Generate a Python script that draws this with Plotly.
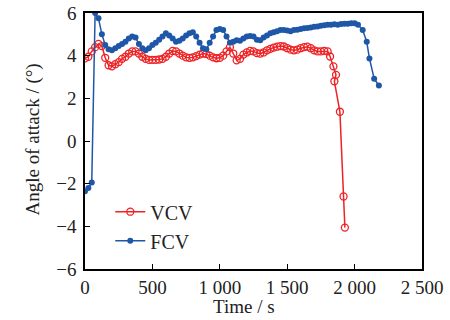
import plotly.graph_objects as go

vcv_t = [0, 25, 50, 75, 100, 125, 150, 175, 200, 225, 250, 275, 300, 325, 350, 375, 400, 425, 450, 475,
         500, 525, 550, 575, 600, 625, 650, 675, 700, 725, 750, 775, 800, 825, 850, 875, 900, 925, 950, 975,
         1000, 1025, 1050, 1075, 1100, 1125, 1150, 1175, 1200, 1225, 1250, 1275, 1300, 1325, 1350, 1375,
         1400, 1425, 1450, 1475, 1500, 1525, 1550, 1575, 1600, 1625, 1650, 1675, 1700, 1725, 1750, 1775,
         1800, 1818, 1843, 1862, 1850, 1891, 1918, 1928]
vcv_a = [3.87, 3.95, 4.2, 4.4, 4.55, 4.45, 3.9, 3.55, 3.5, 3.6, 3.7, 3.85, 3.95, 4.1, 4.2, 4.2, 4.1, 3.95, 3.85, 3.8,
         3.8, 3.8, 3.82, 3.85, 3.95, 4.1, 4.22, 4.2, 4.1, 4.0, 3.92, 3.9, 3.92, 3.98, 4.05, 4.1, 4.08, 4.0, 3.92, 3.88,
         3.9, 4.0, 4.2, 4.4, 4.1, 3.78, 3.85, 4.05, 4.15, 4.22, 4.2, 4.12, 4.1, 4.15, 4.25, 4.32,
         4.38, 4.42, 4.45, 4.43, 4.35, 4.28, 4.25, 4.28, 4.35, 4.4, 4.42, 4.35, 4.25, 4.2, 4.2, 4.22,
         4.2, 3.96, 3.5, 3.1, 2.8, 1.37, -2.6, -4.06]

fcv_t = [0, 25, 50, 75, 100, 125, 150, 175, 200, 225, 250, 275, 300, 325, 350, 375, 400, 425, 450, 475,
         500, 525, 550, 575, 600, 625, 650, 675, 700, 725, 750, 775, 800, 825, 850, 875, 900, 925, 950, 975,
         1000, 1025, 1050, 1075, 1100, 1125, 1150, 1175, 1200, 1225, 1250, 1275, 1300, 1325, 1350, 1375,
         1400, 1425, 1450, 1475, 1500, 1525, 1550, 1575, 1600, 1625, 1650, 1675, 1700, 1725, 1750, 1775,
         1800, 1825, 1850, 1875, 1900, 1925, 1950, 1975, 2000, 2025, 2060, 2090, 2110, 2145, 2180]
fcv_a = [-2.36, -2.2, -1.95, 6.0, 5.75, 5.0, 4.5, 4.3, 4.25, 4.35, 4.45, 4.55, 4.65, 4.8, 4.9, 4.85, 4.55, 4.35, 4.25, 4.35,
         4.5, 4.6, 4.75, 4.9, 5.05, 4.95, 4.8, 4.65, 4.7, 4.8, 4.95, 5.05, 5.1, 4.9, 4.6, 4.35, 4.3, 4.6, 4.9, 5.2,
         5.25, 5.2, 4.9, 4.6, 4.65, 4.72, 4.7, 4.8, 4.9, 4.92, 4.9, 4.75, 4.72, 4.85, 4.95, 5.05,
         5.1, 5.15, 5.2, 5.2, 5.18, 5.15, 5.2, 5.22, 5.25, 5.28, 5.3, 5.32, 5.35, 5.37, 5.4, 5.42,
         5.45, 5.45, 5.47, 5.45, 5.48, 5.5, 5.5, 5.52, 5.52, 5.45, 5.2, 4.65, 3.87, 2.92, 2.6]

x_ticks = [0, 500, 1000, 1500, 2000, 2500]
x_labels = ["0", "500", "1 000", "1 500", "2 000", "2 500"]
y_ticks = [-6, -4, -2, 0, 2, 4, 6]
y_labels = ["\u22126", "\u22124", "\u22122", "0", "2", "4", "6"]

RED = "#ee2224"
BLUE = "#1f57a8"
FONT = "Liberation Serif"
TXT = "#222"

fig = go.Figure()
fig.add_trace(go.Scatter(x=vcv_t, y=vcv_a, mode="lines+markers", name="VCV",
                         line=dict(color=RED, width=1.5),
                         marker=dict(symbol="circle-open", size=7, color=RED, line=dict(width=1.3))))
fig.add_trace(go.Scatter(x=fcv_t, y=fcv_a, mode="lines+markers", name="FCV",
                         line=dict(color=BLUE, width=1.5),
                         marker=dict(symbol="circle", size=6, color=BLUE)))

axis_common = dict(showline=True, linecolor="black", linewidth=1.5, mirror=True,
                   ticks="inside", ticklen=5, tickwidth=1.2, tickcolor="black",
                   showgrid=False, zeroline=False, automargin=False,
                   tickfont=dict(family=FONT, size=19, color=TXT))

fig.update_xaxes(range=[0, 2500], tickvals=x_ticks, ticktext=x_labels, **axis_common)
fig.update_yaxes(range=[-6, 6], tickvals=y_ticks, ticktext=y_labels, ticklabelstandoff=3, **axis_common)

fig.add_annotation(text="Time / s", xref="paper", yref="paper", x=0.471, y=-0.148,
                   xanchor="center", yanchor="middle", showarrow=False,
                   font=dict(family=FONT, size=19, color=TXT))
fig.add_annotation(text="Angle of attack / (\u00b0)", xref="paper", yref="paper", x=-0.155, y=0.505,
                   xanchor="center", yanchor="middle", showarrow=False, textangle=-90,
                   font=dict(family=FONT, size=19, color=TXT))

fig.update_layout(width=450, height=320,
                  margin=dict(l=85, r=28, t=13, b=51),
                  plot_bgcolor="white", paper_bgcolor="white",
                  font=dict(family=FONT, size=19, color=TXT),
                  showlegend=True,
                  legend=dict(x=0.075, y=0.3, xanchor="left", yanchor="top",
                              bgcolor="rgba(0,0,0,0)", font=dict(family=FONT, size=20, color=TXT),
                              itemwidth=30, tracegroupgap=0))

fig.write_html("out.html", config={"displayModeBar": False},
               post_script="document.body.style.margin='0';document.body.style.overflow='hidden';")
